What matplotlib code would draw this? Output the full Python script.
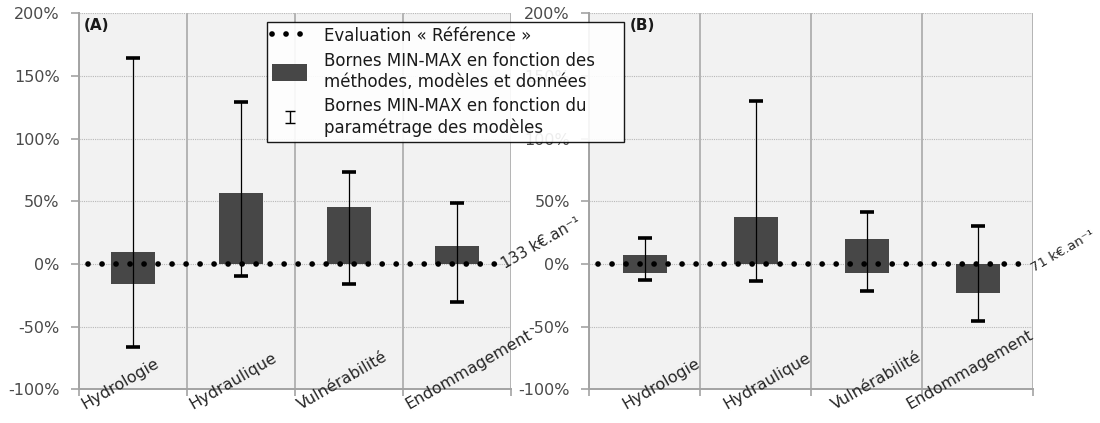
import numpy as np
import matplotlib
matplotlib.use("Agg")
import matplotlib.pyplot as plt
import matplotlib.transforms as mtransforms
from matplotlib.lines import Line2D
from matplotlib.patches import Patch
from matplotlib.legend_handler import HandlerErrorbar
from matplotlib.ticker import FuncFormatter

plt.rcParams['font.family'] = ['DejaVu Sans']

categories = ["Hydrologie", "Hydraulique", "Vulnérabilité", "Endommagement"]

# Panel A (values in % relative to reference evaluation 133 k€/an)
a_bar_min = [-16.3, 0.0, 0.0, 0.0]
a_bar_max = [9.9, 57.0, 45.6, 14.4]
a_err_min = [-66.5, -9.3, -16.0, -30.0]
a_err_max = [164.5, 129.0, 73.0, 49.0]
a_ref_label = "133 k€.an⁻¹"

# Panel B (values in % relative to reference evaluation 71 k€/an)
b_bar_min = [-7.5, 0.0, -7.5, -23.0]
b_bar_max = [7.5, 37.6, 20.3, 0.0]
b_err_min = [-12.8, -13.3, -21.6, -45.6]
b_err_max = [21.0, 130.0, 41.6, 30.0]
b_ref_label = "71 k€.an⁻¹"

legend_labels = ["Evaluation « Référence »",
                 "Bornes MIN-MAX en fonction des\nméthodes, modèles et données",
                 "Bornes MIN-MAX en fonction du\nparamétrage des modèles"]

BAR_COLOR = "#474747"
GRID_V = "#a3a3a3"
GRID_H = "#b8b8b8"
TXT = "#4a4a4a"
DOT_LS = (0, (0.01, 2.45))
DOT_LW = 4.1

fig = plt.figure(figsize=(11, 4.23), dpi=100)
axA = fig.add_axes([79/1100, 1-389.3/423, 432/1100, 376/423])
axB = fig.add_axes([589.3/1100, 1-389.3/423, 444/1100, 376/423])


def draw_panel(ax, bmin, bmax, emin, emax, ref_label, panel, label_mode, ref_x, ref_dy, tag_x, ref_fs):
    x = np.arange(len(categories))
    ax.set_facecolor("#f2f2f2")
    bmin = np.array(bmin); bmax = np.array(bmax)
    ax.bar(x, bmax - bmin, bottom=bmin, width=0.4, color=BAR_COLOR, zorder=3)
    eb = ax.errorbar(x, np.zeros(len(x)), yerr=[-np.array(emin), np.array(emax)],
                     fmt='none', ecolor='black', elinewidth=0.9, capsize=5, capthick=2.6, zorder=4)
    ax.plot([-0.42, 3.37], [0, 0], color='black', lw=DOT_LW, ls=DOT_LS,
            dash_capstyle='round', zorder=5)
    ax.set_xlim(-0.5, 3.5)
    ax.set_ylim(-100, 200)
    ax.set_yticks(np.arange(-100, 201, 50))
    ax.yaxis.set_major_formatter(FuncFormatter(lambda v, p: f"{v:.0f}%"))
    ax.set_xticks(np.arange(-0.5, 3.6, 1.0))
    ax.set_xticklabels([])
    ax.tick_params(axis='y', length=6, width=1.2, color=GRID_V, labelsize=11.5,
                   labelcolor=TXT, pad=8)
    ax.tick_params(axis='x', length=5, width=1.2, color=GRID_V)
    ax.yaxis.grid(True, linestyle=(0, (1, 1)), color=GRID_H, lw=0.8, zorder=0)
    ax.xaxis.grid(True, linestyle='-', color=GRID_V, lw=1.1, zorder=0)
    ax.set_axisbelow(True)
    for s in ['top', 'right']:
        ax.spines[s].set_visible(False)
    for s in ['left', 'bottom']:
        ax.spines[s].set_color(GRID_V)
        ax.spines[s].set_linewidth(1.4)
    trans = mtransforms.blended_transform_factory(ax.transData, ax.transAxes)
    t = mtransforms.offset_copy(trans, fig=fig, x=0, y=-23, units='dots')
    for i, c in enumerate(categories):
        if label_mode == 'left':
            ax.text(i - 0.5, 0, c, transform=t, rotation=30,
                    ha='left', va='bottom', fontsize=11.5, color='#262626', clip_on=False)
        else:
            ax.text(i + 0.52, 0, c, transform=t, rotation=30,
                    ha='right', va='bottom', fontsize=11.5, color='#262626', clip_on=False)
    t2 = mtransforms.offset_copy(ax.transData, fig=fig, x=0, y=-ref_dy, units='dots')
    ax.text(ref_x, 0, ref_label, transform=t2, rotation=30, rotation_mode='anchor',
            ha='left', va='baseline', fontsize=ref_fs, color='#262626', clip_on=False, zorder=6)
    ax.text(tag_x, 0.988, panel, transform=ax.transAxes, ha='left', va='top',
            fontsize=11, fontweight='bold', color='#1a1a1a')
    return eb


draw_panel(axA, a_bar_min, a_bar_max, a_err_min, a_err_max, a_ref_label, "(A)",
           'left', 3.44, 5, 0.01, 10.8)
draw_panel(axB, b_bar_min, b_bar_max, b_err_min, b_err_max, b_ref_label, "(B)",
           'right', 3.51, 8, 0.092, 9.6)

# legend proxies
h_dot = Line2D([], [], color='black', lw=DOT_LW, ls=DOT_LS, dash_capstyle='round')
h_bar = Patch(facecolor=BAR_COLOR, edgecolor='none')
h_err = axA.errorbar([np.nan], [np.nan], yerr=[[np.nan], [np.nan]], fmt='none',
                     ecolor='black', elinewidth=1.0, capsize=3.5, capthick=1.0)

leg = fig.legend([h_dot, h_bar, h_err], legend_labels,
                 loc='upper left', bbox_to_anchor=(267/1100, (423-140)/423, 357/1100, 118/423),
                 bbox_transform=fig.transFigure, borderaxespad=0, mode='expand',
                 fontsize=12, frameon=True, fancybox=False, framealpha=0.9,
                 edgecolor='black', handlelength=2.1, handleheight=1.2,
                 handletextpad=1.0, borderpad=0.3, labelspacing=0.4,
                 handler_map={type(h_err): HandlerErrorbar(yerr_size=0.36)})
leg.get_frame().set_linewidth(1.0)
for t in leg.get_texts():
    t.set_color('#1a1a1a')
leg.set_zorder(10)

fig.savefig("out.png", dpi=100)
